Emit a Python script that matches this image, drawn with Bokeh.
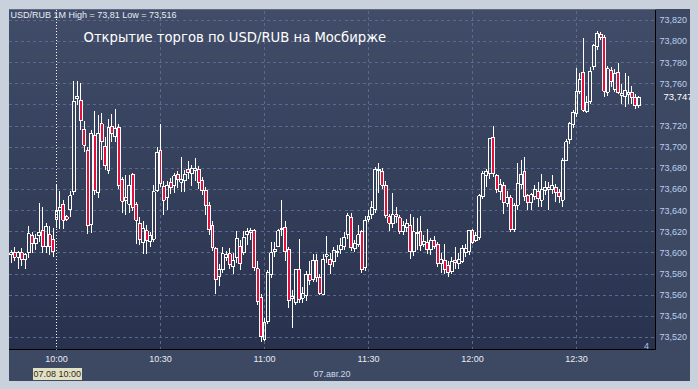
import numpy as np
from bokeh.plotting import figure
from bokeh.models import (Range1d, FixedTicker, Span, Label, CustomJSTickFormatter,
                          GlobalInlineStyleSheet, LinearAxis, Title)
from bokeh.embed import file_html
from bokeh.resources import INLINE

# ---------------- data (1-minute candles, USD/RUB, 07.08.2020) ----------------
opens = [
    73.598, 73.600, 73.596, 73.600, 73.594, 73.600, 73.616, 73.609, 73.616, 73.621, 73.606, 73.617, 73.613,
    73.632, 73.640, 73.646, 73.634, 73.641, 73.658, 73.746, 73.744, 73.717, 73.697, 73.627, 73.711, 73.657,
    73.722, 73.701, 73.678, 73.720, 73.710, 73.719, 73.669, 73.650, 73.646, 73.674, 73.646, 73.628, 73.610,
    73.621, 73.611, 73.613, 73.659, 73.697, 73.663, 73.652, 73.667, 73.664, 73.674, 73.667, 73.668, 73.679,
    73.675, 73.678, 73.679, 73.668, 73.659, 73.645, 73.626, 73.604, 73.578, 73.584, 73.596, 73.599, 73.587,
    73.596, 73.606, 73.600, 73.617, 73.619, 73.621, 73.585, 73.558, 73.518, 73.535, 73.580, 73.601, 73.606,
    73.622, 73.624, 73.603, 73.557, 73.553, 73.584, 73.557, 73.560, 73.580, 73.575, 73.593, 73.577, 73.561,
    73.597, 73.594, 73.592, 73.600, 73.603, 73.606, 73.617, 73.633, 73.604, 73.608, 73.620, 73.586, 73.632,
    73.636, 73.641, 73.678, 73.677, 73.664, 73.634, 73.628, 73.636, 73.633, 73.620, 73.624, 73.626, 73.601,
    73.618, 73.620, 73.608, 73.610, 73.603, 73.612, 73.608, 73.590, 73.593, 73.588, 73.582, 73.593, 73.590,
    73.592, 73.600, 73.601, 73.621, 73.612, 73.615, 73.653, 73.673, 73.675, 73.709, 73.673, 73.658, 73.664,
    73.647, 73.652, 73.622, 73.645, 73.665, 73.677, 73.654, 73.648, 73.653, 73.658, 73.650, 73.659, 73.660,
    73.660, 73.662, 73.657, 73.650, 73.687, 73.707, 73.721, 73.732, 73.753, 73.771, 73.734, 73.743, 73.776,
    73.795, 73.807, 73.804, 73.752, 73.773, 73.755, 73.771, 73.749, 73.748, 73.750, 73.752, 73.747, 73.739,
]
highs = [
    73.603, 73.606, 73.602, 73.605, 73.600, 73.625, 73.620, 73.618, 73.647, 73.643, 73.628, 73.625, 73.624,
    73.664, 73.659, 73.650, 73.636, 73.659, 73.763, 73.763, 73.761, 73.725, 73.700, 73.716, 73.734, 73.730,
    73.732, 73.710, 73.727, 73.731, 73.736, 73.722, 73.672, 73.674, 73.674, 73.676, 73.648, 73.634, 73.630,
    73.626, 73.620, 73.664, 73.700, 73.722, 73.668, 73.668, 73.671, 73.676, 73.677, 73.691, 73.678, 73.687,
    73.683, 73.690, 73.682, 73.672, 73.662, 73.648, 73.630, 73.606, 73.589, 73.606, 73.602, 73.605, 73.600,
    73.621, 73.612, 73.621, 73.624, 73.624, 73.623, 73.592, 73.561, 73.538, 73.584, 73.610, 73.610, 73.623,
    73.650, 73.630, 73.606, 73.565, 73.585, 73.613, 73.568, 73.583, 73.592, 73.599, 73.599, 73.580, 73.599,
    73.616, 73.600, 73.606, 73.607, 73.614, 73.620, 73.638, 73.638, 73.612, 73.626, 73.622, 73.635, 73.641,
    73.649, 73.681, 73.685, 73.680, 73.668, 73.637, 73.657, 73.643, 73.636, 73.630, 73.632, 73.637, 73.634,
    73.633, 73.635, 73.617, 73.623, 73.614, 73.616, 73.610, 73.600, 73.608, 73.592, 73.596, 73.606, 73.600,
    73.607, 73.608, 73.622, 73.623, 73.620, 73.656, 73.677, 73.679, 73.709, 73.720, 73.675, 73.670, 73.667,
    73.659, 73.655, 73.647, 73.685, 73.688, 73.691, 73.656, 73.657, 73.664, 73.667, 73.675, 73.668, 73.667,
    73.674, 73.665, 73.660, 73.690, 73.708, 73.724, 73.735, 73.775, 73.770, 73.803, 73.748, 73.776, 73.798,
    73.810, 73.809, 73.806, 73.777, 73.776, 73.774, 73.780, 73.760, 73.770, 73.767, 73.758, 73.750, 73.748,
]
lows = [
    73.590, 73.592, 73.585, 73.588, 73.585, 73.595, 73.600, 73.603, 73.610, 73.600, 73.600, 73.598, 73.596,
    73.624, 73.623, 73.623, 73.630, 73.634, 73.655, 73.740, 73.716, 73.695, 73.618, 73.619, 73.655, 73.652,
    73.688, 73.678, 73.675, 73.705, 73.705, 73.660, 73.638, 73.636, 73.638, 73.640, 73.608, 73.607, 73.599,
    73.599, 73.606, 73.610, 73.658, 73.662, 73.636, 73.641, 73.656, 73.657, 73.661, 73.658, 73.658, 73.670,
    73.663, 73.668, 73.660, 73.655, 73.636, 73.617, 73.602, 73.561, 73.569, 73.581, 73.592, 73.585, 73.580,
    73.590, 73.584, 73.598, 73.607, 73.612, 73.583, 73.551, 73.516, 73.517, 73.533, 73.576, 73.596, 73.606,
    73.616, 73.592, 73.548, 73.529, 73.551, 73.553, 73.553, 73.554, 73.570, 73.572, 73.572, 73.560, 73.560,
    73.590, 73.580, 73.587, 73.596, 73.599, 73.603, 73.613, 73.602, 73.601, 73.606, 73.581, 73.583, 73.629,
    73.632, 73.638, 73.657, 73.660, 73.633, 73.621, 73.624, 73.628, 73.618, 73.617, 73.620, 73.594, 73.597,
    73.603, 73.602, 73.606, 73.599, 73.598, 73.604, 73.587, 73.581, 73.580, 73.577, 73.580, 73.585, 73.585,
    73.590, 73.596, 73.598, 73.608, 73.610, 73.612, 73.651, 73.662, 73.670, 73.672, 73.657, 73.650, 73.637,
    73.643, 73.620, 73.620, 73.641, 73.660, 73.649, 73.641, 73.641, 73.650, 73.643, 73.643, 73.655, 73.641,
    73.656, 73.648, 73.647, 73.643, 73.687, 73.703, 73.718, 73.729, 73.750, 73.733, 73.732, 73.741, 73.773,
    73.792, 73.801, 73.747, 73.748, 73.757, 73.752, 73.750, 73.741, 73.738, 73.741, 73.741, 73.736, 73.737,
]
closes = [
    73.600, 73.596, 73.600, 73.594, 73.598, 73.618, 73.609, 73.614, 73.619, 73.606, 73.625, 73.606, 73.601,
    73.640, 73.643, 73.631, 73.632, 73.654, 73.743, 73.748, 73.725, 73.702, 73.626, 73.713, 73.659, 73.713,
    73.705, 73.683, 73.719, 73.713, 73.718, 73.664, 73.649, 73.652, 73.664, 73.643, 73.631, 73.613, 73.623,
    73.612, 73.616, 73.658, 73.695, 73.666, 73.650, 73.664, 73.662, 73.673, 73.669, 73.669, 73.674, 73.676,
    73.680, 73.680, 73.667, 73.659, 73.645, 73.622, 73.605, 73.575, 73.584, 73.599, 73.598, 73.589, 73.593,
    73.614, 73.590, 73.615, 73.620, 73.621, 73.586, 73.554, 73.521, 73.534, 73.581, 73.600, 73.603, 73.621,
    73.623, 73.601, 73.555, 73.559, 73.584, 73.556, 73.562, 73.580, 73.574, 73.593, 73.577, 73.562, 73.594,
    73.598, 73.589, 73.602, 73.601, 73.607, 73.615, 73.635, 73.605, 73.609, 73.617, 73.584, 73.631, 73.634,
    73.643, 73.679, 73.679, 73.664, 73.635, 73.628, 73.636, 73.634, 73.620, 73.626, 73.628, 73.601, 73.620,
    73.619, 73.607, 73.611, 73.603, 73.612, 73.606, 73.590, 73.594, 73.584, 73.581, 73.592, 73.591, 73.594,
    73.604, 73.604, 73.621, 73.610, 73.616, 73.654, 73.675, 73.677, 73.708, 73.675, 73.660, 73.665, 73.648,
    73.652, 73.622, 73.645, 73.666, 73.674, 73.653, 73.648, 73.655, 73.660, 73.651, 73.660, 73.662, 73.662,
    73.664, 73.657, 73.653, 73.687, 73.705, 73.722, 73.733, 73.753, 73.764, 73.735, 73.742, 73.772, 73.796,
    73.808, 73.804, 73.753, 73.774, 73.762, 73.770, 73.752, 73.751, 73.754, 73.752, 73.747, 73.739, 73.747,
]
first_minute = 9 * 60 + 47          # 09:47
cursor_minute = 10 * 60             # 10:00
time_ticks = [600, 630, 660, 690, 720, 750]
time_labels = ["10:00", "10:30", "11:00", "11:30", "12:00", "12:30"]
price_ticks = [73.52, 73.54, 73.56, 73.58, 73.60, 73.62, 73.64, 73.66,
               73.68, 73.70, 73.72, 73.74, 73.76, 73.78, 73.80, 73.82]
title_text = "Открытие торгов по USD/RUB на Мосбирже"
date_text = "07.авг.20"
cursor_text = "07.08 10:00"

# ---------------- geometry ----------------
o = np.array(opens); h = np.array(highs); l = np.array(lows); c = np.array(closes)
t = first_minute + np.arange(len(c))
last = float(c[-1])

PPM = 104 / 30.0          # pixels per minute
PPU = 1072.5              # pixels per rouble
FL, FT, FW, FH = 8, 9, 647, 345   # frame left/top (page px), size
X0 = 600 - (56 - FL) / PPM
X1 = X0 + FW / PPM
Y1 = 73.820 + (20 - FT) / PPU
Y0 = Y1 - FH / PPU

def px(xp):
    return X0 + (xp - FL) / PPM

def py(yp):
    return Y1 - (yp - FT) / PPU

p = figure(width=687, height=373, x_range=Range1d(X0, X1), y_range=Range1d(Y0, Y1),
           y_axis_location="right", output_backend="svg", toolbar_location=None,
           min_border_left=0, min_border_right=40, min_border_top=1, min_border_bottom=27)
p.stylesheets = [GlobalInlineStyleSheet(
    css="html, body { margin: 0; padding: 0; } "
        "body { margin: 8px !important; background: #c9d1dd; shape-rendering: crispEdges; }")]
p.background_fill_color = "#343f5c"
p.border_fill_color = "#3d4862"
p.outline_line_color = None

# gradient background
n = 48
edges = np.linspace(Y0, Y1, n + 1)
top_rgb = np.array([65, 77, 104]); bot_rgb = np.array([40, 50, 78])
fr = (np.arange(n) + 0.5) / n
cols = ["#%02x%02x%02x" % tuple(np.round(bot_rgb + (top_rgb - bot_rgb) * f).astype(int)) for f in fr]
p.quad(left=X0, right=X1, bottom=edges[:-1], top=edges[1:] + (Y1 - Y0) / n * 0.3,
       fill_color=cols, line_color=None, level="image")

# grid
p.xgrid.ticker = FixedTicker(ticks=[v for v in time_ticks if v != cursor_minute])
p.ygrid.ticker = FixedTicker(ticks=price_ticks)
for g in (p.xgrid, p.ygrid):
    g.grid_line_color = "#5b6a8a"
    g.grid_line_dash = "3 3"
    g.grid_line_width = 1

def bare(ax):
    ax.major_tick_line_color = None
    ax.minor_tick_line_color = None
    ax.major_tick_out = 0
    ax.major_tick_in = 0
    ax.minor_tick_out = 0
    ax.minor_tick_in = 0

# main axes (the label hidden under the last-price tag is left out)
p.xaxis.ticker = FixedTicker(ticks=time_ticks)
p.xaxis.major_label_overrides = {k: v for k, v in zip(time_ticks, time_labels)}
p.yaxis.ticker = FixedTicker(ticks=[v for v in price_ticks if abs(v - last) > 0.008])
fmt_js = "return tick.toFixed(3).replace('.', ',');"
p.yaxis.formatter = CustomJSTickFormatter(code=fmt_js)
for ax in (p.xaxis, p.yaxis):
    bare(ax)
    ax.axis_line_color = "#000000"
    ax.axis_line_width = 1
    ax.major_label_text_font = "Liberation Sans"
    ax.major_label_text_font_size = "9px"
p.xaxis.major_label_text_color = "#e6ecf5"
p.xaxis.major_label_standoff = 4
p.yaxis.major_label_text_color = "#bcd0ee"
p.yaxis.major_label_standoff = 4

# second row under the time axis: cursor time box (title) and the date (axis label)
box = Title(text=cursor_text, align="left", offset=24, standoff=0, vertical_align="middle",
            text_font="Liberation Sans", text_font_size="9px", text_font_style="normal",
            text_color="#2a2a2a", background_fill_color="#e4e1c3")
try:
    box.padding = 1
except Exception:
    pass
p.add_layout(box, "below")

ax2 = LinearAxis(ticker=FixedTicker(ticks=[]), axis_label=date_text)
bare(ax2)
ax2.axis_line_color = None
ax2.major_label_text_font_size = "9px"
ax2.axis_label_text_font = "Liberation Sans"
ax2.axis_label_text_font_size = "9px"
ax2.axis_label_text_font_style = "normal"
ax2.axis_label_text_color = "#cdd8ec"
ax2.axis_label_standoff = -12
p.add_layout(ax2, "below")

# last-price tag on the right, drawn by a second price axis
ay2 = LinearAxis(ticker=FixedTicker(ticks=[last]),
                 formatter=CustomJSTickFormatter(code=fmt_js))
bare(ay2)
ay2.axis_line_color = None
ay2.major_label_text_font = "Liberation Sans"
ay2.major_label_text_font_size = "9.5px"
ay2.major_label_standoff = -27
ay2.major_label_text_color = "#ffffff"
p.add_layout(ay2, "right")

# candles
up = c >= o
body_top = np.maximum(o, c)
body_bot = np.minimum(o, c)
p.segment(t, h, t, body_top, line_color="#ffffff", line_width=1)
p.segment(t, body_bot, t, l, line_color="#ffffff", line_width=1)
p.vbar(x=t[up], top=body_top[up], bottom=body_bot[up], width=0.85,
       fill_alpha=0, line_color="#ffffff", line_width=1)
p.vbar(x=t[~up], top=body_top[~up], bottom=body_bot[~up], width=0.85,
       fill_color="#e3103d", line_color="#ffffff", line_width=1)

# cursor line
p.add_layout(Span(location=cursor_minute, dimension="height", line_color="#ffffff",
                  line_dash="1 2", line_width=1))

def fmt(v, trim=False):
    s = "%.3f" % v
    if trim:
        s = s.rstrip("0")
    return s.replace(".", ",")

header = "USD/RUB 1M High = %s Low = %s" % (fmt(h.max(), True), fmt(l.min(), True))
p.add_layout(Label(x=px(10), y=py(15), text=header, text_font="Liberation Sans",
                   text_font_size="9px", text_color="#e6ecf6", text_baseline="middle"))
p.add_layout(Label(x=px(83), y=py(37), text=title_text, text_font="DejaVu Sans",
                   text_font_size="13.2px", text_color="#ffffff", text_baseline="middle"))
p.add_layout(Label(x=px(646), y=py(350), text="4", text_font="Liberation Sans",
                   text_font_size="9px", text_color="#a8c0e8", text_align="center",
                   text_baseline="middle"))

open("out.html", "w").write(file_html(p, INLINE))
